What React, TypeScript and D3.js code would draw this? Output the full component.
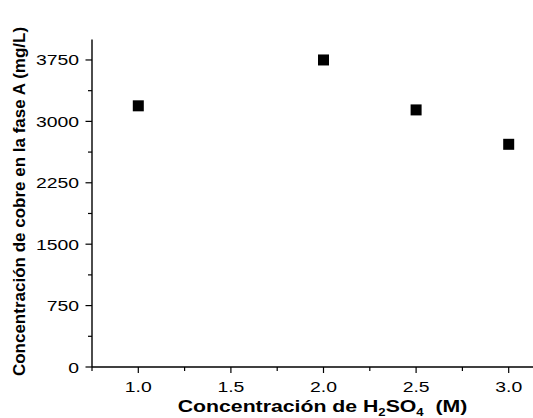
import React from "react";
import * as d3 from "d3";

const xValues = [1.0, 2.0, 2.5, 3.0];
const yValues = [3190, 3750, 3140, 2720];
const xTicks = [1.0, 1.5, 2.0, 2.5, 3.0];
const xMinorTicks = [0.75, 1.25, 1.75, 2.25, 2.75, 3.25];
const yTicks = [0, 750, 1500, 2250, 3000, 3750];
const yMinorTicks = [375, 1125, 1875, 2625, 3375];

const W = 533;
const H = 418;
const FONT = "'Liberation Sans', Arial, sans-serif";
const SX = 1.25;

export default function App() {
  const x = d3.scaleLinear().domain([0.75, 3.25]).range([92, 555]);
  const y = d3.scaleLinear().domain([0, 4000]).range([367, 39.5]);
  const x0 = x(0.75);
  const y0 = y(0);
  const ms = 11;
  return (
    <svg
      width={W}
      height={H}
      style={{ position: "absolute", left: 0, top: 0, background: "#fff" }}
      fontFamily={FONT}
    >
      <rect width={W} height={H} fill="#fff" />
      {/* axes lines */}
      <line x1={x0} x2={x0} y1={y(4000)} y2={y0} stroke="#000" strokeWidth={1.4} />
      <line x1={x0} x2={W} y1={y0} y2={y0} stroke="#000" strokeWidth={1.4} />
      {/* y ticks */}
      {yTicks.map((t) => (
        <g key={"yt" + t}>
          <line x1={x0 - 6.5} x2={x0} y1={y(t)} y2={y(t)} stroke="#000" strokeWidth={1.2} />
          <g transform={`translate(${x0 - 13},${y(t) + 5.5}) scale(${SX},1)`}>
            <text textAnchor="end" fontSize={15.5}>
              {t}
            </text>
          </g>
        </g>
      ))}
      {yMinorTicks.map((t) => (
        <line key={"ym" + t} x1={x0 - 4} x2={x0} y1={y(t)} y2={y(t)} stroke="#000" strokeWidth={1.2} />
      ))}
      {/* x ticks */}
      {xTicks.map((t) => (
        <g key={"xt" + t}>
          <line x1={x(t)} x2={x(t)} y1={y0} y2={y0 + 6} stroke="#000" strokeWidth={1.2} />
          <g transform={`translate(${x(t)},${392}) scale(${SX},1)`}>
            <text textAnchor="middle" fontSize={15.5}>
              {d3.format(".1f")(t)}
            </text>
          </g>
        </g>
      ))}
      {xMinorTicks.map((t) => (
        <line key={"xm" + t} x1={x(t)} x2={x(t)} y1={y0} y2={y0 + 4} stroke="#000" strokeWidth={1.2} />
      ))}
      {/* points */}
      {xValues.map((v, i) => (
        <rect
          key={"p" + i}
          x={x(v) - ms / 2}
          y={y(yValues[i]) - ms / 2}
          width={ms}
          height={ms}
          fill="#000"
        />
      ))}
      {/* x label */}
      <g transform={`translate(322.5,412) scale(${SX},1)`}>
        <text textAnchor="middle" fontSize={17} fontWeight="bold" xmlSpace="preserve">
          Concentración de H
          <tspan fontSize={10.5} dy={3.5}>2</tspan>
          <tspan dy={-3.5}>SO</tspan>
          <tspan fontSize={10.5} dy={3.5}>4</tspan>
          <tspan dy={-3.5}>{"  (M)"}</tspan>
        </text>
      </g>
      {/* y label */}
      <text
        transform={`translate(25,${(8 + 395) / 2}) rotate(-90)`}
        textAnchor="middle"
        fontSize={17}
        fontWeight="bold"
      >
        Concentración de cobre en la fase A (mg/L)
      </text>
    </svg>
  );
}
